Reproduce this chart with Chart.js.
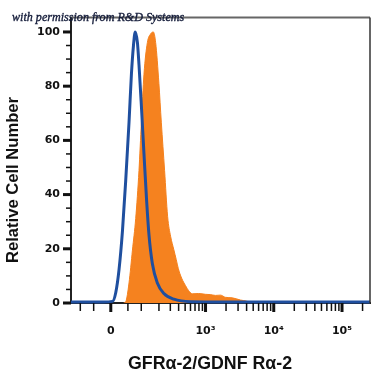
<!DOCTYPE html>
<html>
<head>
<meta charset="utf-8">
<script src="https://cdn.jsdelivr.net/npm/chart.js@4.4.0/dist/chart.umd.min.js"></script>
<style>
  html, body { margin: 0; padding: 0; background: #fff; }
  #wrap { width: 375px; height: 375px; }
</style>
</head>
<body>
<div id="wrap"><canvas id="histChart" width="375" height="375"></canvas></div>
<script>
// x values are positions on the biexponential display axis (10^3 = 3, 10^4 = 4, ...)
const isotypeX = [1.03, 1.50, 1.638, 1.686, 1.734, 1.784, 1.832, 1.880, 1.915, 1.945, 1.971, 2.003, 2.026, 2.061, 2.099, 2.139, 2.172, 2.222, 2.295, 2.391, 2.537, 2.781, 3.5, 5.41];
const isotypeY = [0.4, 0.4, 0.6, 3.9, 12.4, 26.6, 45.4, 66.7, 84.4, 95.0, 100, 96.1, 87.9, 72.7, 55.0, 37.2, 25.2, 14.5, 7.4, 3.5, 1.4, 0.5, 0.4, 0.4];

const stainedX = [1.80, 1.832, 1.880, 1.930, 1.978, 2.026, 2.061, 2.099, 2.149, 2.197, 2.236, 2.270, 2.318, 2.353, 2.401, 2.445, 2.490, 2.535, 2.572, 2.601, 2.650, 2.708, 2.752, 2.810, 2.90, 3.0, 3.07, 3.146, 3.22, 3.292, 3.394, 3.511, 3.599, 3.686];
const stainedY = [0, 0.5, 7.4, 19.5, 31.2, 48.9, 66.7, 84.4, 96.1, 99.3, 100, 96.1, 80.9, 66.7, 48.9, 32.0, 24.5, 19.8, 16.0, 12.8, 9.2, 6.4, 4.6, 3.4, 3.5, 3.2, 3.1, 2.8, 2.9, 2.1, 1.9, 1.1, 0.7, 0];

// raw intensities for axis ticks
const xMajorValues = [0, 1000, 10000, 100000];
const xMajorLabels = ['0', '10³', '10⁴', '10⁵'];
const xMinorValues = [-100, -50, 50, 100, 200, 300, 400, 500, 600, 700, 800, 900,
  2000, 3000, 4000, 5000, 6000, 7000, 8000, 9000,
  20000, 30000, 40000, 50000, 60000, 70000, 80000, 90000, 200000];
const yMajorTicks = [0, 20, 40, 60, 80, 100];
const yMinorTicks = [5, 10, 15, 25, 30, 35, 45, 50, 55, 65, 70, 75, 85, 90, 95];

const xTitle = 'GFRα-2/GDNF Rα-2';
const yTitle = 'Relative Cell Number';
const watermark = 'with permission from R&D Systems';

// biexponential-like transform used for the axis
function logicle(v) {
  return Math.log10(41) + Math.asinh(v / 82) / Math.LN10;
}

const toPoints = (xs, ys) => xs.map((x, i) => ({ x: x, y: ys[i] }));

const tickFont = { family: 'DejaVu Sans', size: 11, weight: 'bold' };

// set a font so that text fills a given width
function fitFont(ctx, style, family, text, width) {
  ctx.font = style + ' 20px ' + family;
  const size = 20 * width / ctx.measureText(text).width;
  ctx.font = style + ' ' + size.toFixed(1) + 'px ' + family;
}

// draws tick marks, frame, titles and the watermark
const framePlugin = {
  id: 'frame',
  afterDraw(chart) {
    const ctx = chart.ctx;
    const a = chart.chartArea;
    const xs = chart.scales.x, ys = chart.scales.y;
    ctx.save();
    // top and right frame
    ctx.strokeStyle = '#666';
    ctx.lineWidth = 2;
    ctx.beginPath();
    ctx.moveTo(a.left, a.top);
    ctx.lineTo(a.right, a.top);
    ctx.stroke();
    ctx.strokeStyle = '#333';
    ctx.lineWidth = 1.5;
    ctx.beginPath();
    ctx.moveTo(a.right, a.top);
    ctx.lineTo(a.right, a.bottom);
    ctx.stroke();

    ctx.strokeStyle = '#111';
    // y ticks
    yMajorTicks.forEach(v => {
      const y = ys.getPixelForValue(v);
      ctx.lineWidth = 3;
      ctx.beginPath(); ctx.moveTo(a.left - 8, y); ctx.lineTo(a.left, y); ctx.stroke();
    });
    yMinorTicks.forEach(v => {
      const y = ys.getPixelForValue(v);
      ctx.lineWidth = 1.5;
      ctx.beginPath(); ctx.moveTo(a.left - 5, y); ctx.lineTo(a.left, y); ctx.stroke();
    });
    // x ticks
    xMajorValues.forEach(v => {
      const x = xs.getPixelForValue(logicle(v));
      ctx.lineWidth = 3;
      ctx.beginPath(); ctx.moveTo(x, a.bottom); ctx.lineTo(x, a.bottom + 9); ctx.stroke();
    });
    xMinorValues.forEach(v => {
      const x = xs.getPixelForValue(logicle(v));
      ctx.lineWidth = 1.5;
      ctx.beginPath(); ctx.moveTo(x, a.bottom); ctx.lineTo(x, a.bottom + 8); ctx.stroke();
    });

    // axis titles
    ctx.fillStyle = '#111';
    ctx.textAlign = 'center';
    ctx.textBaseline = 'middle';
    fitFont(ctx, 'bold', '"Liberation Sans"', xTitle, 164);
    ctx.fillText(xTitle, 210, 364);
    ctx.save();
    ctx.translate(13, 180);
    ctx.rotate(-Math.PI / 2);
    fitFont(ctx, 'bold', '"Liberation Sans"', yTitle, 166);
    ctx.fillText(yTitle, 0, 0);
    ctx.restore();

    // watermark
    fitFont(ctx, 'italic', '"Liberation Serif"', watermark, 173);
    ctx.fillStyle = '#141c3a';
    ctx.strokeStyle = '#141c3a';
    ctx.lineWidth = 0.35;
    ctx.textAlign = 'left';
    ctx.textBaseline = 'alphabetic';
    ctx.fillText(watermark, 12, 21);
    ctx.strokeText(watermark, 12, 21);
    ctx.restore();
  }
};

const ctx = document.getElementById('histChart').getContext('2d');
const histChart = new Chart(ctx, {
  type: 'line',
  data: {
    datasets: [
      {
        label: 'Isotype control',
        data: toPoints(isotypeX, isotypeY),
        borderColor: '#1f4f9f',
        borderWidth: 3,
        fill: false,
        pointRadius: 0,
        cubicInterpolationMode: 'monotone',
        clip: 6
      },
      {
        label: 'GFRα-2/GDNF Rα-2',
        data: toPoints(stainedX, stainedY),
        borderColor: '#f5821f',
        backgroundColor: '#f5821f',
        borderWidth: 1,
        fill: 'origin',
        pointRadius: 0,
        cubicInterpolationMode: 'monotone'
      }
    ]
  },
  options: {
    responsive: false,
    animation: false,
    devicePixelRatio: 1,
    layout: { padding: { top: 6, right: 5, left: 0, bottom: 0 } },
    plugins: {
      legend: { display: false },
      tooltip: { enabled: false }
    },
    scales: {
      x: {
        type: 'linear',
        min: 1.03,
        max: 5.41,
        afterFit: s => { s.height = 72; },
        afterBuildTicks: s => { s.ticks = xMajorValues.map(v => ({ value: logicle(v) })); },
        ticks: {
          autoSkip: false,
          maxRotation: 0,
          padding: 22,
          font: tickFont,
          color: '#111',
          callback: (val, i) => xMajorLabels[i]
        },
        grid: { display: false, drawTicks: false },
        border: { display: true, color: '#222', width: 2 }
      },
      y: {
        type: 'linear',
        min: 0,
        max: 105.3,
        afterFit: s => { s.width = 71; },
        afterBuildTicks: s => { s.ticks = yMajorTicks.map(v => ({ value: v })); },
        ticks: {
          padding: 11,
          font: tickFont,
          color: '#111'
        },
        grid: { display: false, drawTicks: false },
        border: { display: true, color: '#222', width: 2 }
      }
    }
  },
  plugins: [framePlugin]
});
</script>
</body>
</html>
